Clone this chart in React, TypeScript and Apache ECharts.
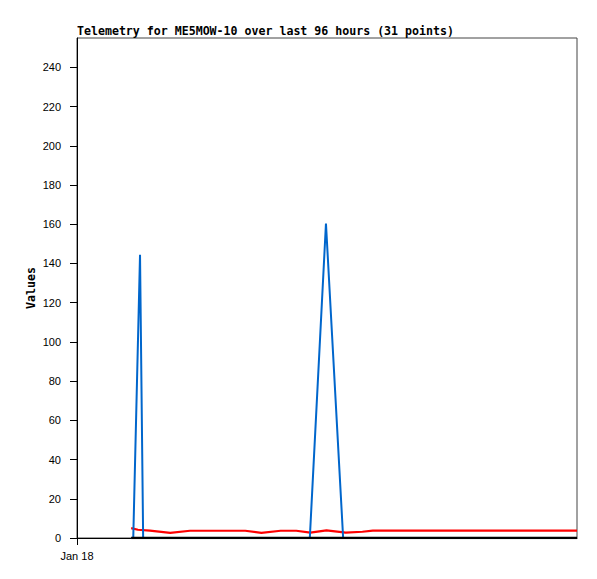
import React, { useEffect, useRef } from "react";
import * as echarts from "echarts";

const titleText = "Telemetry for ME5MOW-10 over last 96 hours (31 points)";
const yAxisName = "Values";
const xStartLabel = "Jan 18";
const yTicks = [0, 20, 40, 60, 80, 100, 120, 140, 160, 180, 200, 220, 240];
const yMax = 255;
const hoursSpan = 96;

// [hours since Jan 18 00:00, value]
const blueSeries: [number, number][] = [
  [10.4, 0], [10.8, 0], [12.1, 144.5], [12.7, 0],
  [44.7, 0], [47.8, 160.4], [51.1, 0], [96, 0],
];
const redSeries: [number, number][] = [
  [10.4, 5.0], [11.7, 4.2], [14.0, 3.8], [17.9, 2.6], [21.7, 3.7],
  [32.3, 3.7], [35.4, 2.6], [39.1, 3.7], [42.1, 3.7], [44.8, 2.7],
  [47.9, 3.9], [51.6, 2.7], [54.8, 3.2], [56.8, 3.8], [96, 3.8],
];
const blackSeries: [number, number][] = [
  [10.4, 0], [96, 0],
];

const mono = "'DejaVu Sans Mono', 'Liberation Mono', monospace";
const sans = "'Liberation Sans', Arial, sans-serif";

export default function App() {
  const ref = useRef<HTMLDivElement>(null);
  useEffect(() => {
    if (!ref.current) return;
    const chart = echarts.init(ref.current, null, { renderer: "svg" });
    chart.setOption({
      animation: false,
      backgroundColor: "#ffffff",
      title: {
        text: titleText,
        left: 77,
        top: 25,
        padding: 0,
        textStyle: { fontFamily: mono, fontSize: 11.6, fontWeight: "bold", color: "#000" },
      },
      grid: {
        left: 77, top: 38, right: 20, bottom: 41,
        show: true, borderColor: "#444", borderWidth: 1, backgroundColor: "transparent",
      },
      xAxis: {
        type: "value",
        min: 0,
        max: hoursSpan,
        splitLine: { show: false },
        axisLine: { lineStyle: { color: "#000", width: 1 } },
        axisTick: { show: true, customValues: [0], length: 7, lineStyle: { color: "#000" } },
        axisLabel: {
          customValues: [0],
          formatter: () => xStartLabel,
          fontFamily: sans, fontSize: 11, color: "#000", margin: 12,
        },
      },
      yAxis: {
        type: "value",
        min: 0,
        max: yMax,
        interval: 20,
        name: yAxisName,
        nameLocation: "middle",
        nameGap: 40,
        nameMoveOverlap: false,
        nameRotate: 90,
        nameTextStyle: { fontFamily: mono, fontSize: 11.6, fontWeight: "bold", color: "#000" },
        splitLine: { show: false },
        axisLine: { show: true, lineStyle: { color: "#000", width: 1 } },
        axisTick: { show: true, customValues: yTicks, length: 7, lineStyle: { color: "#000" } },
        axisLabel: {
          customValues: yTicks,
          fontFamily: sans, fontSize: 11, color: "#000", margin: 16,
        },
      },
      series: [
        {
          type: "line", data: redSeries, showSymbol: false, symbol: "none",
          lineStyle: { color: "#ff0000", width: 2.2 }, z: 2,
        },
        {
          type: "line", data: blueSeries, showSymbol: false, symbol: "none",
          lineStyle: { color: "#0066cc", width: 2 }, z: 3,
        },
        {
          type: "line", data: blackSeries, showSymbol: false, symbol: "none",
          lineStyle: { color: "#000000", width: 2.5 }, z: 4,
        },
      ],
    });
    return () => chart.dispose();
  }, []);
  return (
    <div
      ref={ref}
      style={{ position: "fixed", left: 0, top: 0, width: 597, height: 579, background: "#fff" }}
    />
  );
}
